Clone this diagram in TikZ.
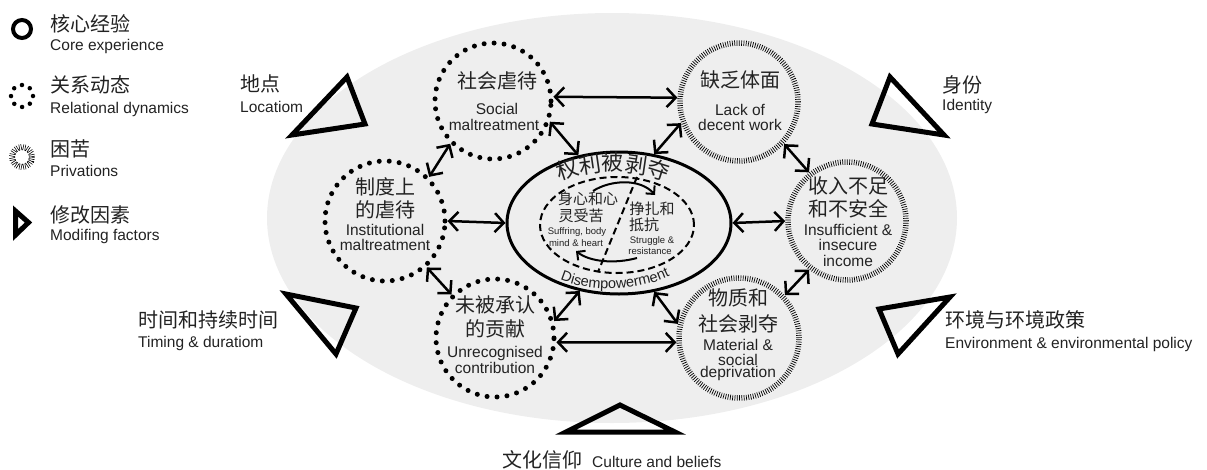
\documentclass[tikz,border=0pt]{standalone}
\usepackage{fontspec}
\setmainfont{Liberation Sans}
\newfontfamily\zh{Noto Sans CJK SC}
\usetikzlibrary{shapes.geometric,arrows.meta,decorations.text}
\definecolor{tc}{HTML}{222222}
\definecolor{bgfill}{HTML}{EEEEEE}
\tikzset{
  zh/.style={font=\zh\fontsize{20}{20}\selectfont, text=tc, inner sep=0pt, anchor=base},
  en/.style={font=\fontsize{15.5}{16}\selectfont, text=tc, inner sep=0pt, anchor=base},
  zhs/.style={font=\zh\fontsize{15}{15}\selectfont, text=tc, inner sep=0pt, anchor=base},
  ens/.style={font=\fontsize{9.5}{10}\selectfont, text=tc, inner sep=0pt, anchor=base},
  dotc/.style={circle, draw=black, line width=5pt, line cap=round, dash pattern=on 0pt off 10pt, minimum size=#1, inner sep=0pt},
  hatc/.style={circle, draw=black, line width=5.5pt, dash pattern=on 0.7pt off 1.6pt, minimum size=#1, inner sep=0pt},
  dbl/.style={{Straight Barb[length=9pt,width=19pt]}-{Straight Barb[length=9pt,width=19pt]}, line width=2.5pt},
  cur/.style={-{Straight Barb[length=6pt,width=12pt]}, line width=2pt},
  tri/.style={draw=black, line width=5pt, line join=miter},
}
\begin{document}
\begin{tikzpicture}[x=1pt,y=-1pt]
\useasboundingbox (0,0) rectangle (1207,469);
% background ellipse
\fill[bgfill] (612,218) ellipse [x radius=345pt, y radius=205pt];

% legend
\draw[line width=4pt] (22,29) circle[radius=9pt];
\draw[line width=4.5pt, line cap=round, dash pattern=on 0pt off 8.6pt] (22,96) circle[radius=11pt];
\draw[line width=6pt, dash pattern=on 0.6pt off 1.4pt] (22,157) circle[radius=10pt];
\draw[line width=5pt, line join=miter] (15.5,211)--(28.5,222.5)--(15.5,235)--cycle;
\node[zh, anchor=base west] (lg1a) at (50,31) {核心经验};
\node[en, anchor=base west] (lg1b) at (50,50) {Core experience};
\node[zh, anchor=base west] (lg2a) at (50,92) {关系动态};
\node[en, anchor=base west] (lg2b) at (50,113) {Relational dynamics};
\node[zh, anchor=base west] (lg3a) at (50,156) {困苦};
\node[en, anchor=base west] (lg3b) at (50,176) {Privations};
\node[zh, anchor=base west] (lg4a) at (50,222) {修改因素};
\node[en, anchor=base west] (lg4b) at (50,240) {Modifing factors};

% modifying-factor triangles
\draw[tri] (347,77)--(365,124)--(292,135)--cycle;
\draw[tri] (890,77)--(872,124)--(944,135)--cycle;
\draw[tri] (879,309)--(950,297)--(898,354)--cycle;
\draw[tri] (286,294)--(356,308)--(336,354)--cycle;
\draw[tri] (620,405)--(566,432)--(675,432)--cycle;

\node[zh, anchor=base west] (locA) at (240,91) {地点};
\node[en, anchor=base west] (locB) at (240,112) {Locatiom};
\node[zh, anchor=base west] (idA) at (942,92) {身份};
\node[en, anchor=base west] (idB) at (942,110) {Identity};
\node[zh, anchor=base west] (timA) at (138,327) {时间和持续时间};
\node[en, anchor=base west] (timB) at (138,347) {Timing \& duratiom};
\node[zh, anchor=base west] (envA) at (945,327) {环境与环境政策};
\node[en, anchor=base west] (envB) at (945,348) {Environment \& environmental policy};
\node[zh, anchor=base west] (culA) at (502,467) {文化信仰};
\node[en, anchor=base west] (culB) at (592,467) {Culture and beliefs};

% satellite circles
\node[dotc=116pt] (soc) at (493,101) {};
\node[hatc=118pt] (lack) at (739,102) {};
\node[dotc=120pt] (inst) at (385,221) {};
\node[hatc=118pt] (ins) at (847,221) {};
\node[dotc=118pt] (unr) at (495,338) {};
\node[hatc=120pt] (mat) at (739,338) {};

\node[zh] (socA) at (497,88) {社会虐待};
\node[en] (socB) at (497,114) {Social};
\node[en] (socC) at (494,130) {maltreatment};
\node[zh] (lackA) at (740,87) {缺乏体面};
\node[en] (lackB) at (740,115) {Lack of};
\node[en] (lackC) at (740,130) {decent work};
\node[zh] (instA) at (385,194) {制度上};
\node[zh] (instB) at (385,217) {的虐待};
\node[en] (instC) at (385,235) {Institutional};
\node[en] (instD) at (385,250) {maltreatment};
\node[zh] (insA) at (848,193) {收入不足};
\node[zh] (insB) at (848,216) {和不安全};
\node[en] (insC) at (848,235) {Insufficient \&};
\node[en] (insD) at (848,250) {insecure};
\node[en] (insE) at (848,266) {income};
\node[zh] (unrA) at (495,312) {未被承认};
\node[zh] (unrB) at (495,336) {的贡献};
\node[en] (unrC) at (495,357) {Unrecognised};
\node[en] (unrD) at (495,373) {contribution};
\node[zh] (matA) at (738,305) {物质和};
\node[zh] (matB) at (738,331) {社会剥夺};
\node[en] (matC) at (738,350) {Material \&};
\node[en] (matD) at (738,365) {social};
\node[en] (matE) at (738,377) {deprivation};

% core
\node[ellipse, draw, line width=3pt, minimum width=224pt, minimum height=142pt, inner sep=0pt] (core) at (619,223) {};
\node[ellipse, draw, line width=2pt, dash pattern=on 7pt off 4pt, minimum width=154pt, minimum height=96pt, inner sep=0pt] (inner) at (617,225) {};
\coordinate (dA) at (637,177);
\coordinate (dB) at (598,272);
\draw[line width=2pt, dash pattern=on 7pt off 4pt] (dA) -- (dB);
\path[decorate, decoration={text along path, text align=center, text={|\zh\fontsize{22}{22}\selectfont\color{tc}|权利被剥夺}}] (550,186) .. controls (585,166) and (640,166) .. (676,186);
\path[decorate, decoration={text along path, text align=center, text={|\fontsize{14.5}{15}\selectfont\color{tc}|Disempowerment}}] (550,274) .. controls (580,294) and (645,294) .. (680,270);
\node[zhs] (cA) at (588,204) {身心和心};
\node[zhs] (cB) at (581,221) {灵受苦};
\node[ens] (cC) at (577,234) {Suffring, body};
\node[ens] (cD) at (576,246) {mind \& heart};
\node[zhs] (cE) at (652,214) {挣扎和};
\node[zhs] (cF) at (644,230) {抵抗};
\node[ens] (cG) at (652,243) {Struggle \&};
\node[ens] (cH) at (650,254) {resistance};
\coordinate (aS) at (593,191);
\coordinate (aE) at (655,195);
\coordinate (bS) at (637,258);
\coordinate (bE) at (576,251);
\draw[cur] (aS) .. controls (610,180) and (640,178) .. (aE);
\draw[cur] (bS) .. controls (615,264) and (590,262) .. (bE);

% connectors
\draw[dbl] (soc.4) -- (lack.176);
\draw[dbl] (soc.-20) -- (core.121);
\draw[dbl] (lack.-160) -- (core.63);
\draw[dbl] (soc.-135) -- (inst.45);
\draw[dbl] (inst.0) -- (core.180);
\draw[dbl] (inst.-48) -- (unr.135);
\draw[dbl] (unr.16) -- (core.-120);
\draw[dbl] (unr.-4) -- (mat.184);
\draw[dbl] (core.-63) -- (mat.167);
\draw[dbl] (mat.43) -- (ins.-128);
\draw[dbl] (lack.-43) -- (ins.128);
\draw[dbl] (core.0) -- (ins.180);
\end{tikzpicture}
\end{document}
